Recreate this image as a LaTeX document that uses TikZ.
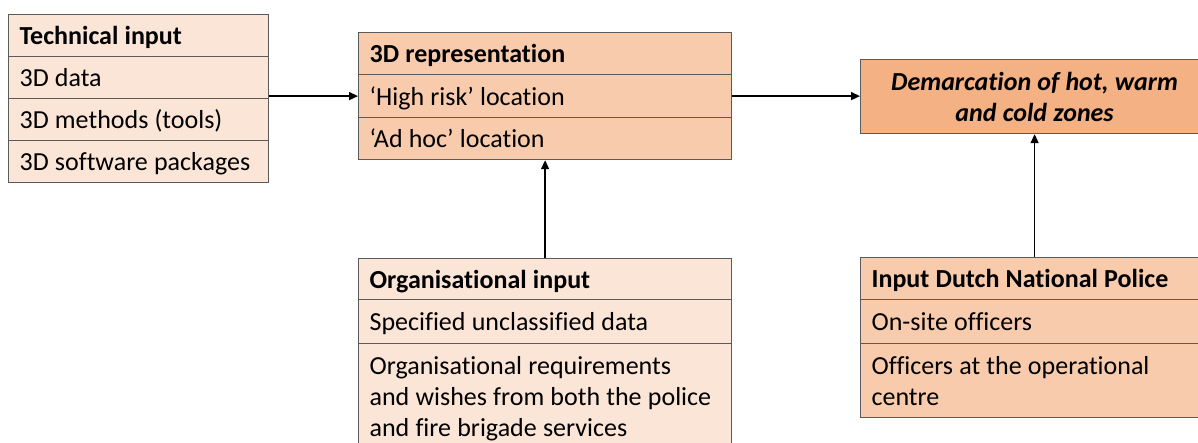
\documentclass[tikz,border=0pt]{standalone}
\usepackage{fontspec}
\setmainfont{Carlito}[Ligatures={NoCommon}]
\usetikzlibrary{arrows.meta,calc}
\definecolor{lightpeach}{HTML}{FBE5D6}
\definecolor{midpeach}{HTML}{F8CBAD}
\definecolor{darkpeach}{HTML}{F4B183}
\definecolor{bordergray}{HTML}{5A5A5A}
\newcommand\rowstrut{\rule[-6.5pt]{0pt}{31pt}}
\newcommand\cellfont{\fontsize{26pt}{31pt}\selectfont}
\newcommand\cellstart{\spaceskip=6.2pt\relax\xspaceskip=6.2pt\relax\rowstrut}
\begin{document}
\begin{tikzpicture}[x=1pt,y=-1pt,
  cellbox/.style={draw=bordergray, line width=1.2pt, anchor=north west,
    inner xsep=11pt, inner ysep=0pt, align=left,
    font=\cellfont,
    execute at begin node=\cellstart, execute at end node=\rowstrut},
  techcell/.style={cellbox, fill=lightpeach, text width=238pt, minimum height=#1},
  repcell/.style={cellbox, fill=midpeach, text width=351pt, minimum height=#1},
  orgcell/.style={cellbox, fill=lightpeach, text width=351pt, minimum height=#1},
  polcell/.style={cellbox, fill=midpeach, text width=326pt, minimum height=#1},
  arr/.style={draw=black, line width=1.4pt, -{Triangle[length=9pt,width=8pt]}}]
\useasboundingbox (0,0) rectangle (1198,443);
\clip (0,0) rectangle (1198,443);
\fill[white] (0,0) rectangle (1198,443);
% Technical input
\node[techcell=42pt] (t1) at (8,14) {\textbf{Technical input}};
\node[techcell=42pt] (t2) at (8,56) {3D data};
\node[techcell=42pt] (t3) at (8,98) {3D methods (tools)};
\node[techcell=42pt] (t4) at (8,140) {3D software packages};
% 3D representation
\node[repcell=42pt] (r1) at (358,32) {\textbf{3D representation}};
\node[repcell=43pt] (r2) at (358,74) {‘High risk’ location};
\node[repcell=42pt] (r3) at (358,117) {‘Ad hoc’ location};
% Organisational input
\node[orgcell=41pt] (o1) at (358,258) {\textbf{Organisational input}};
\node[orgcell=44pt] (o2) at (358,299) {Specified unclassified data};
\node[orgcell=106pt] (o3) at (358,343) {\mbox{Organisational requirements}\\\mbox{and wishes from both the police}\\\mbox{and fire brigade services}};
% Demarcation
\node[cellbox, fill=darkpeach, text width=326pt, minimum height=74pt, align=center,
  font=\cellfont\bfseries\itshape] (d) at (860,59)
  {\mbox{Demarcation of hot, warm}\\\mbox{and cold zones}};
% Police
\node[polcell=42pt] (p1) at (860,257) {\textbf{Input Dutch National Police}};
\node[polcell=44pt] (p2) at (860,299) {On-site officers};
\node[polcell=74pt] (p3) at (860,343) {\mbox{Officers at the operational}\\\mbox{centre}};
% Connectors
\draw[arr] (r2.west -| t1.east) -- (r2.west);
\draw[arr] (r2.east) -- (r2.east -| d.west);
\draw[arr] (o1.north) -- (r3.south);
\draw[arr] (p1.north) -- (d.south);
\end{tikzpicture}
\end{document}
